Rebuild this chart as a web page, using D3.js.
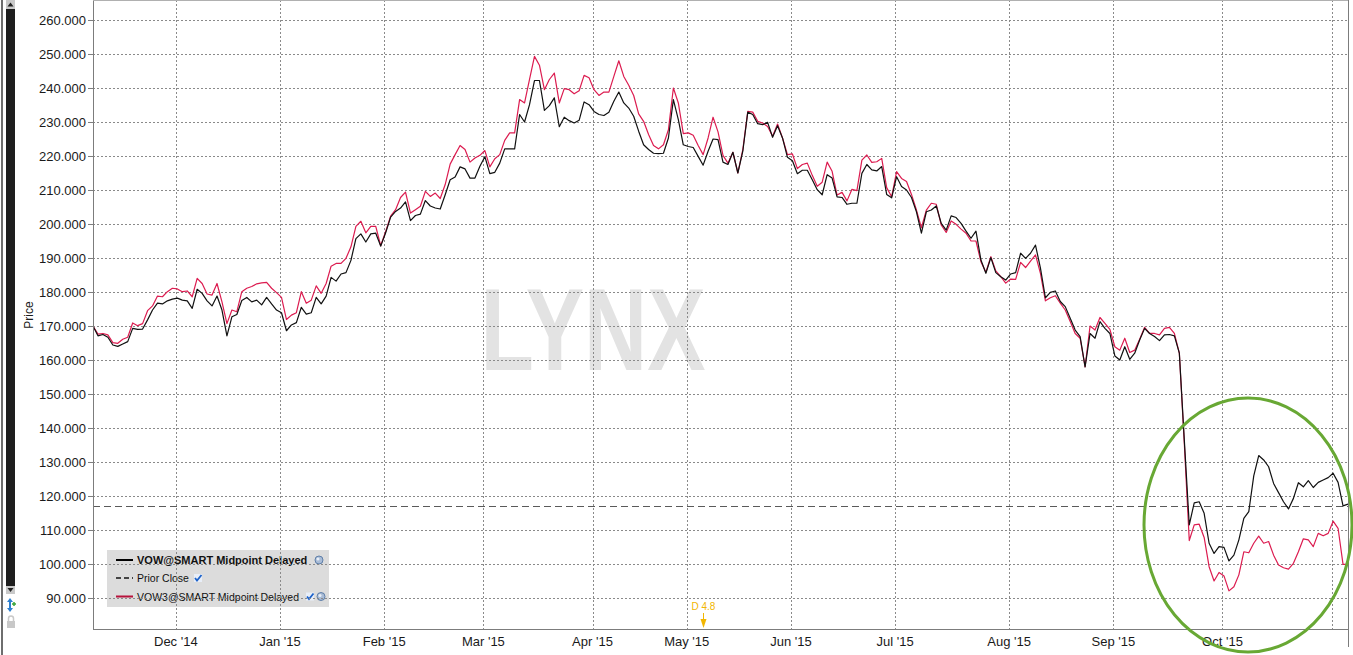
<!DOCTYPE html>
<html><head><meta charset="utf-8">
<script src="https://cdn.jsdelivr.net/npm/d3@7"></script>
<style>html,body{margin:0;padding:0;background:#fff;overflow:hidden}svg{display:block}</style>
</head><body>
<svg id="chart" width="1353" height="655"></svg>
<script>
// ---------- DATA ----------
const vowValues = [
170.0,167.1,167.5,166.7,164.4,164.0,164.7,165.4,169.3,169.0,
169.1,171.8,174.7,176.7,176.5,177.4,177.9,178.2,177.6,177.4,
175.2,180.8,179.6,177.4,175.9,178.8,174.7,167.1,172.7,173.4,
177.5,178.4,177.1,177.6,176.2,178.4,176.5,174.7,173.9,168.6,
170.3,171.0,175.5,173.5,173.9,178.4,176.5,178.8,184.3,183.2,
185.3,185.7,189.3,195.7,197.1,194.7,197.1,197.3,193.5,197.4,
202.0,203.7,204.7,206.5,201.0,202.5,202.9,206.9,205.3,204.7,
204.4,208.6,213.0,213.8,216.8,216.2,213.5,213.5,217.0,219.8,
214.8,215.2,217.9,222.1,222.1,222.1,232.2,230.0,235.1,242.2,
242.2,233.4,234.8,237.1,228.6,231.4,230.4,229.7,230.5,235.9,
235.1,233.1,232.2,231.9,232.9,236.1,238.8,235.6,234.1,231.7,
227.3,223.3,221.9,220.8,220.7,220.8,225.3,236.6,230.7,223.3,
222.8,222.5,219.9,217.3,221.4,225.0,224.8,218.2,217.5,221.1,
215.0,221.4,232.9,232.2,229.5,229.2,229.9,225.5,228.9,225.3,
219.6,218.6,214.8,215.8,215.8,213.0,210.1,208.6,214.5,213.5,
208.0,207.8,205.8,206.1,206.1,214.9,217.5,215.9,215.6,216.9,
208.7,207.7,213.9,211.0,210.0,207.8,203.6,197.3,203.6,204.1,
205.3,200.2,198.2,202.4,201.9,200.2,197.9,195.8,197.9,189.4,
185.5,190.1,185.7,184.5,183.5,185.3,185.7,191.4,189.9,191.4,
193.8,187.0,178.3,179.9,180.3,177.2,175.7,172.3,168.8,166.9,
158.0,167.8,166.4,171.3,169.3,167.8,161.2,160.0,163.9,160.2,
162.0,165.9,169.3,167.8,166.9,165.7,167.4,167.5,167.1,162.0,
136.5,111.5,118.0,118.3,114.9,106.1,103.1,105.1,104.9,100.9,
102.6,107.1,113.4,115.4,125.9,131.9,130.6,128.6,123.7,121.0,
118.3,116.2,119.3,123.9,122.7,124.5,122.5,124.0,124.7,125.4,
126.7,124.0,117.1,117.6];

const vow3Values = [
170.0,167.6,167.8,167.4,165.1,164.9,166.1,166.7,170.9,170.1,
170.7,174.5,175.9,178.8,178.6,180.1,181.1,180.9,180.1,180.3,
178.6,184.0,182.5,179.4,179.1,182.5,177.1,170.7,174.7,174.2,
180.1,181.1,181.6,182.4,182.7,182.8,181.1,179.8,178.4,171.9,
173.2,173.9,180.1,176.7,177.6,181.8,179.6,182.5,187.6,188.4,
188.4,189.9,193.3,199.3,200.8,197.4,199.3,199.3,193.6,197.8,
202.3,204.2,207.8,209.4,203.2,204.2,205.2,209.6,208.1,209.1,
207.5,211.6,217.6,220.4,223.1,221.9,218.2,219.4,220.2,221.6,
216.8,219.2,220.4,224.6,226.8,226.8,236.6,235.6,242.5,249.3,
246.7,239.5,242.5,244.4,235.6,239.8,239.5,238.3,239.2,243.7,
243.0,239.5,237.8,238.8,238.8,243.4,248.0,243.4,240.8,237.8,
232.4,230.2,226.3,223.1,222.1,223.3,227.7,240.0,235.6,226.6,
226.8,226.1,223.1,220.4,225.3,231.4,227.1,220.2,217.9,221.1,
215.0,221.9,233.1,232.9,230.2,229.7,228.7,225.8,229.4,225.3,
220.4,220.6,216.3,217.5,217.9,214.3,211.1,212.3,218.2,215.5,
208.5,209.3,206.8,210.2,209.8,218.8,220.3,218.1,218.3,219.3,
210.7,208.0,215.4,213.4,212.5,208.7,204.1,198.9,204.1,206.1,
205.8,199.7,197.5,200.9,199.9,198.5,197.3,195.0,195.0,188.9,
185.8,190.4,186.2,184.5,182.6,183.8,183.7,188.7,187.2,189.1,
190.9,185.5,177.4,178.3,178.9,176.7,174.7,171.3,167.8,166.4,
158.0,170.0,168.8,172.5,170.8,169.0,163.9,162.9,166.4,162.2,
162.9,166.1,169.6,167.8,167.8,167.4,169.3,169.6,167.8,162.0,
135.5,106.9,111.5,111.7,107.8,99.2,95.0,97.5,96.5,92.1,
93.3,96.8,103.6,103.3,106.1,108.2,106.1,106.6,102.6,99.7,
98.9,98.5,100.2,103.6,107.4,107.1,105.1,109.0,108.3,109.0,
112.6,110.5,99.9,99.9];

const priorClose = 117.0;
const monthLabels = ["Dec '14","Jan '15","Feb '15","Mar '15","Apr '15","May '15","Jun '15","Jul '15","Aug '15","Sep '15","Oct '15","Nov '15"];
const monthStartIndex = [17,38,59,79,101,120,141,162,185,206,228,250];
const yTickValues = [90,100,110,120,130,140,150,160,170,180,190,200,210,220,230,240,250,260];
const yDomain = [80.88, 265.88];
const legendLabels = ["VOW@SMART Midpoint Delayed","Prior Close","VOW3@SMART Midpoint Delayed"];
const dividendLabel = "D 4.8";
const dividendIndex = 123;
const yAxisTitle = "Price";
const watermark = "LYNX";

// ---------- LAYOUT ----------
const W = 1353, H = 655;
const L = 93, R = 1348, T = 0, B = 629;
const svg = d3.select("#chart");
const FONT = "'Liberation Sans', Arial, sans-serif";

const x = d3.scaleLinear().domain([0, vowValues.length - 1]).range([L, R]);
const y = d3.scaleLinear().domain(yDomain).range([B, T]);

svg.append("rect").attr("width", W).attr("height", H).attr("fill", "#fff");

// left scrollbar strip
const strip = svg.append("g");
strip.append("rect").attr("x", 1).attr("y", 0).attr("width", 2).attr("height", H).attr("fill", "#6e6e6e");
strip.append("rect").attr("x", 6).attr("y", 0).attr("width", 9).attr("height", 594).attr("fill", "#1e1e1e");
strip.append("rect").attr("x", 6).attr("y", 0).attr("width", 9).attr("height", 9).attr("fill", "#c9c9c9");
strip.append("path").attr("d", "M7.5,6.5 L13.5,6.5 L10.5,2.5 Z").attr("fill", "#222");
strip.append("rect").attr("x", 6).attr("y", 586).attr("width", 9).attr("height", 8).attr("fill", "#c9c9c9");
strip.append("path").attr("d", "M7.5,588 L13.5,588 L10.5,592 Z").attr("fill", "#222");
// resize icon
strip.append("path").attr("d", "M10,598 L7,602 L9,602 L9,608 L7,608 L10,612 L13,608 L11,608 L11,602 L13,602 Z").attr("fill", "#2c7fd0");
strip.append("path").attr("d", "M12,604 h4 M14,602 v4").attr("stroke", "#3aa53a").attr("stroke-width", 1.5);
// lock icon
strip.append("path").attr("d", "M8.5,621 v-2.5 a2.5,2.5 0 0 1 5,0 v2.5").attr("fill", "none").attr("stroke", "#c8c8c8").attr("stroke-width", 1.5);
strip.append("rect").attr("x", 7).attr("y", 621).attr("width", 8).attr("height", 7).attr("fill", "#c8c8c8");

// legend box (under grid lines)
const lg = svg.append("g");
lg.append("rect").attr("x", 107).attr("y", 550).attr("width", 222).attr("height", 57).attr("fill", "#dcdcdc");

// watermark
svg.append("text").attr("x", 593).attr("y", 370).attr("text-anchor", "middle")
  .attr("font-family", FONT).attr("font-weight", "bold").attr("font-size", 116)
  .attr("textLength", 225).attr("lengthAdjust", "spacingAndGlyphs")
  .attr("fill", "#e3e3e3").text(watermark);

// grid
const grid = svg.append("g").attr("stroke", "#8a8a8a").attr("stroke-width", 1).attr("stroke-dasharray", "2,2");
grid.selectAll("line.h").data(yTickValues).join("line")
  .attr("x1", L).attr("x2", R)
  .attr("y1", d => Math.round(y(d)) + 0.5).attr("y2", d => Math.round(y(d)) + 0.5);
const monthPos = monthStartIndex.map(i => x(i - 0.3));
grid.selectAll("line.v").data(monthPos).join("line")
  .attr("y1", T).attr("y2", B)
  .attr("x1", d => Math.round(d) + 0.5).attr("x2", d => Math.round(d) + 0.5);

// prior close
svg.append("line").attr("x1", L).attr("x2", R)
  .attr("y1", Math.round(y(priorClose)) + 0.5).attr("y2", Math.round(y(priorClose)) + 0.5)
  .attr("stroke", "#5a5a5a").attr("stroke-width", 1).attr("stroke-dasharray", "7,4");

// series lines
const line = d3.line().x((d, i) => x(i)).y(d => y(d));
svg.append("path").datum(vow3Values).attr("d", line)
  .attr("fill", "none").attr("stroke", "#dc1c50").attr("stroke-width", 1.2).attr("stroke-linejoin", "round");
svg.append("path").datum(vowValues).attr("d", line)
  .attr("fill", "none").attr("stroke", "#111").attr("stroke-width", 1.2).attr("stroke-linejoin", "round");

// frame / axes
const frame = svg.append("g").attr("stroke", "#7c7c7c").attr("stroke-width", 1);
frame.append("line").attr("x1", L + 0.5).attr("x2", L + 0.5).attr("y1", 0).attr("y2", B + 0.5);
frame.append("line").attr("x1", L).attr("x2", R).attr("y1", B + 0.5).attr("y2", B + 0.5);
frame.append("line").attr("x1", R + 0.5).attr("x2", R + 0.5).attr("y1", 0).attr("y2", 647);
frame.append("line").attr("x1", L).attr("x2", R).attr("y1", 0.5).attr("y2", 0.5).attr("stroke", "#b0b0b0");

// y axis via d3
const yAxis = d3.axisLeft(y).tickValues(yTickValues).tickFormat(d3.format(".3f")).tickSize(5).tickPadding(2);
const ya = svg.append("g").attr("transform", `translate(${L},0)`).call(yAxis);
ya.select(".domain").remove();
ya.selectAll(".tick line").attr("stroke", "#7c7c7c");
ya.selectAll(".tick text").attr("font-family", FONT).attr("font-size", 13).attr("fill", "#1a1a1a");

svg.append("text").attr("transform", "translate(33,315) rotate(-90)")
  .attr("text-anchor", "middle").attr("font-family", FONT).attr("font-size", 12).attr("fill", "#1a1a1a").text(yAxisTitle);

// x labels
svg.append("g").selectAll("text").data(monthLabels.map((t, k) => ({t, p: monthPos[k]})))
  .join("text")
  .filter(d => d.p + 22 < R)
  .attr("x", d => d.p).attr("y", 646).attr("text-anchor", "middle")
  .attr("font-family", FONT).attr("font-size", 13).attr("fill", "#1a1a1a").text(d => d.t);

// dividend marker
const dx = Math.round(x(dividendIndex)) + 0.5;
svg.append("text").attr("x", dx - 12).attr("y", 610).attr("font-family", FONT).attr("font-size", 10)
  .attr("fill", "#f2b600").text(dividendLabel);
svg.append("line").attr("x1", dx).attr("x2", dx).attr("y1", 613).attr("y2", 622).attr("stroke", "#f2b600").attr("stroke-width", 1);
svg.append("path").attr("d", `M${dx - 3},619 L${dx + 3},619 L${dx},628 Z`).attr("fill", "#f2b600");

// ellipse highlight
svg.append("ellipse").attr("cx", 1248).attr("cy", 525).attr("rx", 104).attr("ry", 127)
  .attr("fill", "none").attr("stroke", "#68a834").attr("stroke-width", 3);

// legend contents
const legRows = [
  {label: legendLabels[0], color: "#000", dash: null, bold: true, size: 11, y: 560},
  {label: legendLabels[1], color: "#444", dash: "5,3", bold: false, size: 10.5, y: 578},
  {label: legendLabels[2], color: "#b8133c", dash: null, bold: false, size: 10.5, y: 596.5}
];
legRows.forEach(r => {
  lg.append("line").attr("x1", 116).attr("x2", 133).attr("y1", r.y).attr("y2", r.y)
    .attr("stroke", r.color).attr("stroke-width", 2).attr("stroke-dasharray", r.dash);
  lg.append("text").attr("x", 137).attr("y", r.y + 4).attr("font-family", FONT)
    .attr("font-size", r.size).attr("font-weight", r.bold ? "bold" : "normal").attr("fill", "#111").text(r.label);
});
function wrench(cx, cy) {
  lg.append("circle").attr("cx", cx).attr("cy", cy).attr("r", 4).attr("fill", "#a9bcd6").attr("stroke", "#5f7fa8").attr("stroke-width", 1);
  lg.append("circle").attr("cx", cx - 1).attr("cy", cy - 1).attr("r", 1.5).attr("fill", "#e8eef6");
}
function check(cx, cy) {
  lg.append("rect").attr("x", cx - 4).attr("y", cy - 4).attr("width", 8).attr("height", 8).attr("fill", "#e8eef8");
  lg.append("path").attr("d", `M${cx - 3},${cy} L${cx - 1},${cy + 2.5} L${cx + 3.5},${cy - 3}`)
    .attr("fill", "none").attr("stroke", "#1d62c9").attr("stroke-width", 1.8);
}
wrench(319, 560);
check(198, 578);
check(310, 596.5);
wrench(321, 596.5);
</script>
</body></html>
